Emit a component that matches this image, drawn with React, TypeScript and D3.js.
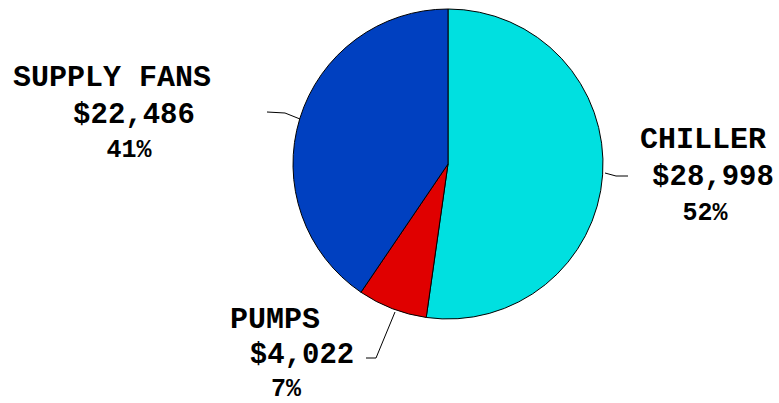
import React from "react";
import * as d3 from "d3";

const categories = ["CHILLER", "PUMPS", "SUPPLY FANS"];
const values = [28998, 4022, 22486];
const percentLabels = ["52%", "7%", "41%"];
const colors = ["#00E0E0", "#E00000", "#0040C0"];

// label layout (line centres / baselines), not data
const labelLayout = [
  { name: [703, 148], value: [713, 185], pct: [705, 220], line: [[605, 173], [616, 176], [628, 176]] },
  { name: [275, 328], value: [302, 363], pct: [286, 396], line: [[395, 312], [376, 358], [366, 358]] },
  { name: [112, 86], value: [134, 123], pct: [129, 157], line: [[300, 119], [285, 113], [267, 112]] },
];

const W = 779;
const H = 403;
const cx = 448;
const cy = 164;
const R = 155;

export default function App() {
  const pie = d3.pie<number>().sort(null).value((d) => d)(values);
  const arc = d3.arc<d3.PieArcDatum<number>>().innerRadius(0).outerRadius(R);
  const fmt = d3.format("$,");
  const line = d3.line().curve(d3.curveLinear);
  return (
    <svg
      width={W}
      height={H}
      style={{ position: "absolute", left: 0, top: 0, background: "#fff" }}
    >
      <g transform={`translate(${cx},${cy})`}>
        {pie.map((p, i) => (
          <path key={i} d={arc(p) || ""} fill={colors[i]} stroke="#000" strokeWidth={1} />
        ))}
      </g>
      {labelLayout.map((l, i) => (
        <g key={i} fontFamily="'Liberation Mono', 'Courier New', monospace" fontWeight="bold" fill="#000">
          <path d={line(l.line as [number, number][]) || ""} fill="none" stroke="#000" strokeWidth={1} />
          <text x={l.name[0]} y={l.name[1]} textAnchor="middle" fontSize={30}>
            {categories[i]}
          </text>
          <text x={l.value[0]} y={l.value[1]} textAnchor="middle" fontSize={29}>
            {fmt(values[i])}
          </text>
          <text x={l.pct[0]} y={l.pct[1]} textAnchor="middle" fontSize={25}>
            {percentLabels[i]}
          </text>
        </g>
      ))}
    </svg>
  );
}
